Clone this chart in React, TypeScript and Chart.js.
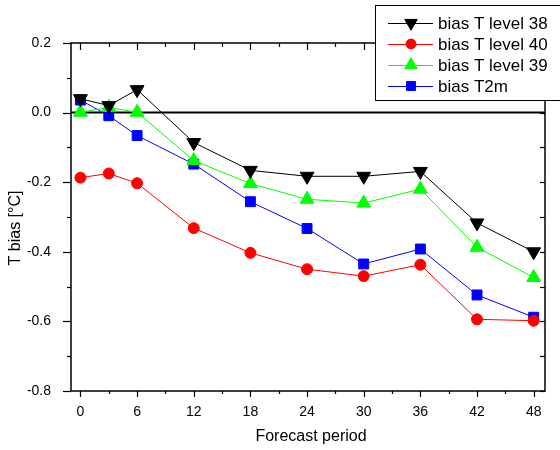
import React, { useEffect, useRef } from 'react';
import { Chart, registerables } from 'chart.js';

Chart.register(...registerables);

const forecastHours = [0, 3, 6, 12, 18, 24, 30, 36, 42, 48];
const level38 = [0.04, 0.02, 0.066, -0.086, -0.166, -0.183, -0.183, -0.169, -0.317, -0.4];
const level40 = [-0.187, -0.175, -0.203, -0.332, -0.403, -0.45, -0.47, -0.437, -0.594, -0.598];
const level39 = [0.001, 0.015, 0.001, -0.138, -0.204, -0.249, -0.26, -0.22, -0.387, -0.474];
const t2m = [0.036, -0.009, -0.066, -0.148, -0.256, -0.333, -0.435, -0.392, -0.524, -0.588];

const seriesLabels = ['bias T level 38', 'bias T level 40', 'bias T level 39', 'bias T2m'];
const xTicks = [0, 6, 12, 18, 24, 30, 36, 42, 48];
const xMinorTicks = [3, 9, 15, 21, 27, 33, 39, 45];
const yTicks = [-0.8, -0.6, -0.4, -0.2, 0, 0.2];
const yMinorTicks = [-0.7, -0.5, -0.3, -0.1, 0.1];
const xTitle = 'Forecast period';
const yTitle = 'T bias [°C]';

const FONT = '"Liberation Sans", Arial, Helvetica, sans-serif';

function drawMarker(ctx: CanvasRenderingContext2D, style: string, rotation: number, x: number, y: number, r: number, color: string) {
  ctx.save();
  ctx.fillStyle = color;
  ctx.strokeStyle = color;
  ctx.lineWidth = 1;
  ctx.beginPath();
  if (style === 'circle') {
    ctx.arc(x, y, r, 0, Math.PI * 2);
  } else if (style === 'rect') {
    const s = r / Math.SQRT2;
    ctx.rect(x - s, y - s, 2 * s, 2 * s);
  } else if (style === 'triangle') {
    let rad = (rotation * Math.PI) / 180;
    ctx.moveTo(x + Math.sin(rad) * r, y - Math.cos(rad) * r);
    rad += (2 * Math.PI) / 3;
    ctx.lineTo(x + Math.sin(rad) * r, y - Math.cos(rad) * r);
    rad += (2 * Math.PI) / 3;
    ctx.lineTo(x + Math.sin(rad) * r, y - Math.cos(rad) * r);
    ctx.closePath();
  }
  ctx.fill();
  ctx.stroke();
  ctx.restore();
}

const decorPlugin = {
  id: 'decor',
  beforeDatasetsDraw(chart: any) {
    const ctx = chart.ctx as CanvasRenderingContext2D;
    const { left, right } = chart.chartArea;
    const y0 = chart.scales.y.getPixelForValue(0);
    ctx.save();
    ctx.strokeStyle = '#000';
    ctx.lineWidth = 2;
    ctx.beginPath();
    ctx.moveTo(left, y0);
    ctx.lineTo(right, y0);
    ctx.stroke();
    ctx.restore();
  },
  afterDraw(chart: any) {
    const ctx = chart.ctx as CanvasRenderingContext2D;
    const { left, right, top, bottom } = chart.chartArea;
    const xs = chart.scales.x;
    const ys = chart.scales.y;
    ctx.save();
    ctx.strokeStyle = '#000';
    ctx.lineWidth = 1.5;
    ctx.strokeRect(left, top, right - left, bottom - top);

    ctx.lineWidth = 1.2;
    const line = (x1: number, y1: number, x2: number, y2: number) => {
      ctx.beginPath();
      ctx.moveTo(x1, y1);
      ctx.lineTo(x2, y2);
      ctx.stroke();
    };
    xTicks.forEach((v) => {
      const px = Math.round(xs.getPixelForValue(v)) + 0.5;
      line(px, bottom, px, bottom + 6);
      line(px, top, px, top + 7);
    });
    xMinorTicks.forEach((v) => {
      const px = Math.round(xs.getPixelForValue(v)) + 0.5;
      line(px, bottom, px, bottom + 3);
      line(px, top, px, top + 4);
    });
    yTicks.forEach((v) => {
      const py = Math.round(ys.getPixelForValue(v)) + 0.5;
      line(left - 8, py, left, py);
      line(right - 5, py, right, py);
    });
    yMinorTicks.forEach((v) => {
      const py = Math.round(ys.getPixelForValue(v)) + 0.5;
      line(left - 4, py, left, py);
      line(right - 5, py, right, py);
    });

    // axis titles
    ctx.fillStyle = '#000';
    ctx.font = `16px ${FONT}`;
    ctx.textAlign = 'center';
    ctx.textBaseline = 'alphabetic';
    ctx.fillText(xTitle, (left + right) / 2 + 3, 441);
    ctx.save();
    ctx.translate(16, 228);
    ctx.rotate(-Math.PI / 2);
    ctx.textBaseline = 'middle';
    ctx.fillText(yTitle, 0, 0);
    ctx.restore();

    // legend
    const bx = 375.5, by = 5.5, bw = 200, bh = 95;
    ctx.fillStyle = '#fff';
    ctx.fillRect(bx, by, bw, bh);
    ctx.strokeStyle = '#000';
    ctx.lineWidth = 1;
    ctx.strokeRect(bx, by, bw, bh);
    const rowY = [23, 44, 65, 86];
    chart.data.datasets.forEach((ds: any, i: number) => {
      const y = rowY[i];
      ctx.strokeStyle = ds.borderColor;
      ctx.lineWidth = 1;
      ctx.beginPath();
      ctx.moveTo(388, y + 0.5);
      ctx.lineTo(433, y + 0.5);
      ctx.stroke();
      drawMarker(ctx, ds.pointStyle, ds.pointRotation || 0, 411, y, ds.pointRadius * 0.9, ds.borderColor);
      ctx.fillStyle = '#000';
      ctx.font = `17px ${FONT}`;
      ctx.textAlign = 'left';
      ctx.textBaseline = 'middle';
      ctx.fillText(ds.label, 438, y + 1);
    });
    ctx.restore();
  },
};

function makeDataset(label: string, values: number[], color: string, pointStyle: string, radius: number, rotation = 0) {
  return {
    label,
    data: forecastHours.map((h, i) => ({ x: h, y: values[i] })),
    borderColor: color,
    backgroundColor: color,
    pointBackgroundColor: color,
    pointBorderColor: color,
    borderWidth: 1,
    pointStyle,
    pointRadius: radius,
    pointHoverRadius: radius,
    pointRotation: rotation,
    pointBorderWidth: 1,
    tension: 0,
    fill: false,
  };
}

export default function App() {
  const canvasRef = useRef<HTMLCanvasElement | null>(null);

  useEffect(() => {
    if (!canvasRef.current) return;
    const chart = new Chart(canvasRef.current, {
      type: 'line',
      data: {
        datasets: [
          makeDataset(seriesLabels[0], level38, '#000000', 'triangle', 8, 180),
          makeDataset(seriesLabels[1], level40, '#ff0000', 'circle', 5.5),
          makeDataset(seriesLabels[2], level39, '#00ff00', 'triangle', 8),
          makeDataset(seriesLabels[3], t2m, '#0000ff', 'rect', 7),
        ] as any,
      },
      options: {
        responsive: false,
        maintainAspectRatio: false,
        animation: false,
        events: [],
        layout: { padding: { left: 0, top: 43, right: 15, bottom: 0 } },
        plugins: {
          legend: { display: false },
          tooltip: { enabled: false },
        },
        scales: {
          x: {
            type: 'linear',
            min: -1,
            max: 49.2,
            afterBuildTicks: (s: any) => {
              s.ticks = xTicks.map((v) => ({ value: v }));
            },
            afterFit: (s: any) => {
              s.height = 59;
            },
            ticks: {
              autoSkip: false,
              maxRotation: 0,
              padding: 5,
              color: '#000',
              font: { size: 14, family: FONT },
              callback: (v: any) => String(v),
            },
            grid: { display: false },
            border: { display: false },
          },
          y: {
            type: 'linear',
            min: -0.8,
            max: 0.2,
            afterBuildTicks: (s: any) => {
              s.ticks = yTicks.map((v) => ({ value: v }));
            },
            afterFit: (s: any) => {
              s.width = 71;
            },
            ticks: {
              padding: 12,
              color: '#000',
              font: { size: 14, family: FONT },
              callback: (v: any) => Number(v).toFixed(1),
            },
            grid: { display: false },
            border: { display: false },
          },
        },
      } as any,
      plugins: [decorPlugin],
    });
    return () => chart.destroy();
  }, []);

  return (
    <div style={{ position: 'fixed', left: 0, top: 0, width: 560, height: 450, background: '#fff' }}>
      <canvas ref={canvasRef} width={560} height={450} style={{ width: 560, height: 450 }} />
    </div>
  );
}
